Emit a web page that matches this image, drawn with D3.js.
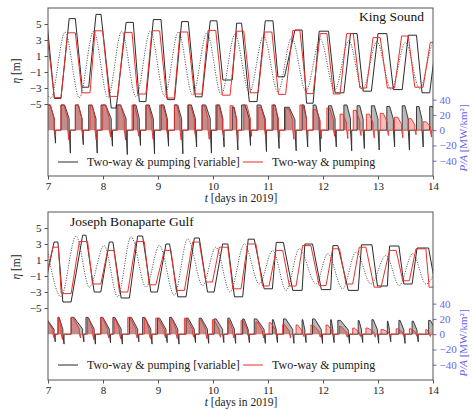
<!DOCTYPE html>
<html><head><meta charset="utf-8">
<script src="https://cdn.jsdelivr.net/npm/d3@7"></script>
<style>
body{margin:0;background:#fff}
svg{display:block}
text{font-family:"Liberation Serif","DejaVu Serif",serif}
</style>
</head><body>
<svg id="chart" width="473" height="411"></svg>
<script>
// ---------- tick labels ----------
const days = [7, 8, 9, 10, 11, 12, 13, 14];
const etaTicks = [-5, -3, -1, 1, 3, 5];
const powerTicks = [-40, -20, 0, 20, 40];

// ---------- King Sound ----------
// ocean level extrema [day, eta m]
const ksTide = [[6.79,4.0],[7.05,-4.3],[7.31,4.0],[7.57,-4.2],[7.83,4.1],[8.09,-4.2],[8.34,4.1],[8.60,-4.1],
  [8.86,4.1],[9.12,-4.0],[9.37,4.0],[9.63,-3.9],[9.89,3.9],[10.15,-3.8],[10.40,3.7],[10.66,-3.6],[10.92,3.5],
  [11.18,-3.5],[11.43,3.3],[11.69,-3.4],[11.95,3.1],[12.21,-3.3],[12.47,2.9],[12.72,-3.2],[12.98,2.8],
  [13.24,-3.2],[13.50,2.7],[13.76,-3.1],[14.01,2.6],[14.27,-3.0]];
// lagoon holding levels [start day, end day, eta m]
const ksRedFlats = [[6.86,6.98,3.9],[7.115,7.236,-4.2],[7.358,7.497,3.9],[7.618,7.764,-3.6],[7.855,7.994,4.15],
  [8.115,8.267,-4.05],[8.388,8.527,3.95],[8.63,8.78,-3.75],[8.89,9.03,4.15],[9.157,9.297,-4.25],[9.40,9.54,4.0],
  [9.66,9.80,-3.75],[9.91,10.05,4.2],[10.17,10.31,-3.9],[10.43,10.56,4.1],[10.68,10.82,-3.6],[10.94,11.07,4.0],
  [11.19,11.32,-3.8],[11.45,11.58,4.2],[11.70,11.82,-3.7],[11.95,12.07,3.8],[12.19,12.31,-3.75],[12.43,12.55,3.8],
  [12.67,12.79,-3.0],[12.91,13.04,3.3],[13.17,13.30,-3.0],[13.43,13.55,3.5],[13.67,13.82,-2.9],[13.95,14.07,2.7]];
const ksBlackFlats = [[6.86,6.985,5.0],[7.115,7.236,-4.3],[7.385,7.497,5.67],[7.62,7.74,-2.9],[7.873,7.964,6.2],
  [8.15,8.24,-5.5],[8.42,8.55,5.2],[8.66,8.78,-4.7],[8.915,9.055,5.55],[9.17,9.30,-4.45],[9.43,9.55,5.3],
  [9.68,9.80,-4.1],[9.95,10.07,5.4],[10.18,10.35,-2.0],[10.43,10.52,5.1],[10.66,10.80,-4.7],[10.95,11.09,5.4],
  [11.18,11.30,-1.6],[11.49,11.62,4.25],[11.70,11.82,-4.9],[11.93,12.10,4.1],[12.22,12.38,-3.6],[12.50,12.62,3.8],
  [12.73,12.88,-3.4],[13.0,13.16,3.8],[13.28,13.44,-3.2],[13.55,13.70,3.6],[13.80,13.94,-3.6],[14.06,14.18,3.0]];
// power per generation phase [MW/km2]: peak and pumping minimum
const ksRedPmax = [33,33,33,32,33,33,33,32,33,33,33,32,33,32,33,30,33,28,33,27,29,21,26,21,22,17,15,11];
const ksRedPmin = [-8,-13,-8,-13,-9,-13,-8,-12,-9,-13,-8,-12,-9,-12,-8,-12,-9,-12,-8,-11,-8,-11,-7,-10,-7,-10,-6,-9];
const ksBlackPmax = [33,33,33,33,33,33,33,33,33,33,33,33,33,30,33,33,33,30,33,33,32,33,32,32,31,32,31,31];
const ksBlackPmin = [-17,-30,-19,-30,-21,-32,-20,-31,-21,-31,-22,-30,-22,-26,-20,-28,-24,-27,-22,-28,-22,-27,-24,-26,-22,-26,-22,-25];

// ---------- Joseph Bonaparte Gulf ----------
const jbTide = [[6.98,2.7],[7.236,-3.6],[7.51,4.0],[7.752,-2.4],[8.02,2.8],[8.267,-3.6],[8.51,3.9],[8.782,-2.4],
  [9.024,2.8],[9.297,-3.4],[9.54,3.65],[9.812,-2.2],[10.05,2.6],[10.31,-3.0],[10.57,3.0],[10.842,-2.0],[11.085,2.2],
  [11.33,-2.8],[11.57,2.4],[11.873,-2.0],[12.085,1.8],[12.357,-2.6],[12.6,2.0],[12.873,-2.0],[13.145,1.6],
  [13.388,-2.2],[13.63,1.8],[13.873,-2.0],[14.14,1.6]];
const jbRedFlats = [[6.80,6.93,-2.2],[7.09,7.19,2.6],[7.24,7.42,-3.2],[7.57,7.72,3.3],[7.81,7.96,-2.0],[8.085,8.2,2.2],
  [8.30,8.45,-3.0],[8.60,8.75,3.3],[8.84,8.96,-2.1],[9.115,9.236,2.2],[9.33,9.48,-2.8],[9.63,9.75,3.25],
  [9.87,9.99,-1.75],[10.115,10.27,2.6],[10.36,10.51,-2.6],[10.63,10.78,3.0],[10.90,11.02,-2.25],[11.145,11.267,2.2],
  [11.39,11.51,-2.25],[11.63,11.78,2.8],[11.93,12.055,-2.2],[12.175,12.30,2.4],[12.42,12.54,-2.0],[12.66,12.78,2.6],
  [12.93,13.055,-2.4],[13.21,13.33,2.2],[13.45,13.57,-1.6],[13.69,13.87,2.4],[13.93,14.07,-2.4]];
const jbBlackFlats = [[6.80,6.92,-3.0],[7.11,7.18,3.25],[7.27,7.42,-4.25],[7.63,7.69,4.1],[7.84,7.96,-3.0],
  [8.115,8.18,3.25],[8.33,8.48,-3.75],[8.63,8.72,4.0],[8.87,8.99,-3.0],[9.145,9.21,3.0],[9.36,9.51,-3.6],
  [9.66,9.75,3.75],[9.90,10.02,-3.0],[10.175,10.27,3.0],[10.39,10.54,-3.6],[10.64,10.75,3.6],[10.93,11.08,-2.6],
  [11.15,11.28,3.2],[11.45,11.62,-2.8],[11.67,11.81,3.0],[11.97,12.14,-2.7],[12.18,12.27,2.8],[12.46,12.64,-2.8],
  [12.70,12.89,2.9],[12.99,13.17,-2.25],[13.21,13.38,2.75],[13.47,13.62,-2.0],[13.71,13.92,2.5],[14.05,14.2,-2.5]];
const jbRedPmax = [20,22,22,21,22,20,22,21,21,20,21,19,19,18,18,16,15,13,12,12,12,10,8,8,6,7,7,6];
const jbRedPmin = [-5,-7,-5,-7,-5,-6,-5,-6,-5,-6,-4,-6,-4,-5,-4,-5,-4,-5,-3,-4,-3,-4,-3,-4,-3,-3,-3,-3];
const jbBlackPmax = [21,22,22,22,22,22,22,22,21,22,21,21,20,21,20,20,19,20,19,20,19,18,18,19,17,18,17,18];
const jbBlackPmin = [-10,-13,-10,-13,-11,-13,-10,-13,-11,-13,-11,-12,-11,-12,-11,-12,-11,-12,-11,-12,-11,-12,-11,-12,-10,-12,-10,-12];

// ---------- drawing ----------
const svg = d3.select("#chart");
const BLACK = "#2a2a2a", RED = "#e8302a", BLUE = "#6464ee", FRAME = "#555";
const FONT = '"Liberation Serif","DejaVu Serif",serif';
const xLeft = 48, xRight = 433;

const panels = [
  {top: 8, bottom: 176, title: "King Sound", titleX: 424, titleAnchor: "end", titleY: 21,
   tide: ksTide, red: ksRedFlats, black: ksBlackFlats,
   rP: ksRedPmax, rN: ksRedPmin, bP: ksBlackPmax, bN: ksBlackPmin, hold: 0.45, endFrac: 0.45,
   etaLabelY: 71, pLabelY: 138, legendY: 162, xlabelY: 202},
  {top: 212, bottom: 380, title: "Joseph Bonaparte Gulf", titleX: 70, titleAnchor: "start", titleY: 226,
   tide: jbTide, red: jbRedFlats, black: jbBlackFlats,
   rP: jbRedPmax, rN: jbRedPmin, bP: jbBlackPmax, bN: jbBlackPmin, hold: 0.25, endFrac: 0.3,
   etaLabelY: 267, pLabelY: 343, legendY: 365, xlabelY: 405.5}
];

function flatsToPath(flats) {
  const pts = [];
  flats.forEach(f => { pts.push([f[0], f[2]], [f[1], f[2]]); });
  return pts;
}
function powerPath(flats, pmax, pmin, hold, endFrac) {
  const pts = [[flats[0][0], 0]];
  for (let i = 0; i < flats.length - 1; i++) {
    const s = flats[i][1], e = flats[i + 1][0], d = e - s;
    const P = pmax[i], N = pmin[i];
    pts.push([s, 0], [s, P], [s + hold * d, P], [e, P * endFrac], [e, 0], [e + 0.022, N], [e + 0.022, 0]);
  }
  pts.push([flats[flats.length - 1][1], 0]);
  return pts;
}
const fmt = d => d < 0 ? "\u2212" + (-d) : String(d);

panels.forEach((p, idx) => {
  const x = d3.scaleLinear().domain([7, 14]).range([xLeft, xRight]);
  const yE = d3.scaleLinear().domain([-14, 7]).range([p.bottom, p.top]);
  const yP = d3.scaleLinear().domain([-60, 160]).range([p.bottom, p.top]);
  const g = svg.append("g");
  const clipId = "clip" + idx;
  svg.append("clipPath").attr("id", clipId).append("rect")
    .attr("x", xLeft).attr("y", p.top).attr("width", xRight - xLeft).attr("height", p.bottom - p.top);
  const plot = g.append("g").attr("clip-path", `url(#${clipId})`);

  // power fills and lines
  const bPts = powerPath(p.black, p.bP, p.bN, p.hold, p.endFrac);
  const rPts = powerPath(p.red, p.rP, p.rN, p.hold, p.endFrac);
  const area = d3.area().x(d => x(d[0])).y0(yP(0)).y1(d => yP(d[1]));
  const pline = d3.line().x(d => x(d[0])).y(d => yP(d[1]));
  plot.append("path").attr("d", area(bPts)).attr("fill", "rgba(40,40,40,0.33)");
  plot.append("path").attr("d", area(rPts)).attr("fill", "rgba(232,48,42,0.33)");
  plot.append("path").attr("d", pline(bPts)).attr("fill", "none").attr("stroke", BLACK).attr("stroke-width", 0.9);
  plot.append("path").attr("d", pline(rPts)).attr("fill", "none").attr("stroke", RED).attr("stroke-width", 0.9);

  // ocean tide (dotted)
  const tline = d3.line().x(d => x(d[0])).y(d => yE(d[1])).curve(d3.curveMonotoneX);
  plot.append("path").attr("d", tline(p.tide)).attr("fill", "none").attr("stroke", "#444")
    .attr("stroke-width", 0.9).attr("stroke-dasharray", "1.1,1.4");
  // lagoon levels
  const eline = d3.line().x(d => x(d[0])).y(d => yE(d[1]));
  plot.append("path").attr("d", eline(flatsToPath(p.black))).attr("fill", "none").attr("stroke", BLACK).attr("stroke-width", 1);
  plot.append("path").attr("d", eline(flatsToPath(p.red))).attr("fill", "none").attr("stroke", RED).attr("stroke-width", 1);

  // axes
  const axL = g.append("g").attr("transform", `translate(${xLeft},0)`)
    .call(d3.axisLeft(yE).tickValues(etaTicks).tickFormat(fmt).tickSize(3.5).tickPadding(3));
  const axR = g.append("g").attr("transform", `translate(${xRight},0)`)
    .call(d3.axisRight(yP).tickValues(powerTicks).tickFormat(fmt).tickSize(3.5).tickPadding(3));
  const axB = g.append("g").attr("transform", `translate(0,${p.bottom})`)
    .call(d3.axisBottom(x).tickValues(days).tickFormat(d3.format("d")).tickSize(3.5).tickPadding(2.5));
  [axL, axR, axB].forEach(a => {
    a.attr("font-family", FONT);
    a.select(".domain").remove();
    a.selectAll("text").attr("font-size", 11);
  });
  axL.selectAll("line").attr("stroke", FRAME);
  axL.selectAll("text").attr("fill", "#222");
  axB.selectAll("line").attr("stroke", FRAME);
  axB.selectAll("text").attr("fill", "#222");
  axR.selectAll("line").attr("stroke", BLUE);
  axR.selectAll("text").attr("fill", BLUE);

  g.append("rect").attr("x", xLeft).attr("y", p.top).attr("width", xRight - xLeft).attr("height", p.bottom - p.top)
    .attr("fill", "none").attr("stroke", FRAME).attr("stroke-width", 1);

  // title
  g.append("text").attr("x", p.titleX).attr("y", p.titleY).attr("text-anchor", p.titleAnchor)
    .attr("font-size", 13.5).attr("fill", "#111").text(p.title);

  // axis labels
  const xl = g.append("text").attr("x", 241).attr("y", p.xlabelY).attr("text-anchor", "middle")
    .attr("font-size", 11.5).attr("fill", "#222");
  xl.append("tspan").attr("font-style", "italic").text("t");
  xl.append("tspan").text(" [days in 2019]");
  const el = g.append("text").attr("transform", `translate(20,${p.etaLabelY}) rotate(-90)`)
    .attr("text-anchor", "middle").attr("font-size", 11.5).attr("fill", "#222");
  el.append("tspan").attr("font-style", "italic").text("\u03b7");
  el.append("tspan").text(" [m]");
  const pl = g.append("text").attr("transform", `translate(467,${p.pLabelY}) rotate(-90)`)
    .attr("text-anchor", "middle").attr("font-size", 11).attr("fill", BLUE);
  pl.append("tspan").attr("font-style", "italic").text("P/A");
  pl.append("tspan").text(" [MW/km\u00b2]");

  // legend
  g.append("line").attr("x1", 58).attr("x2", 78).attr("y1", p.legendY).attr("y2", p.legendY)
    .attr("stroke", BLACK).attr("stroke-width", 1);
  g.append("text").attr("x", 87).attr("y", p.legendY + 4).attr("font-size", 12).attr("fill", "#222")
    .text("Two-way & pumping [variable]");
  g.append("line").attr("x1", 243).attr("x2", 263).attr("y1", p.legendY).attr("y2", p.legendY)
    .attr("stroke", RED).attr("stroke-width", 1);
  g.append("text").attr("x", 272).attr("y", p.legendY + 4).attr("font-size", 12).attr("fill", "#222")
    .text("Two-way & pumping");
});
</script>
</body></html>
